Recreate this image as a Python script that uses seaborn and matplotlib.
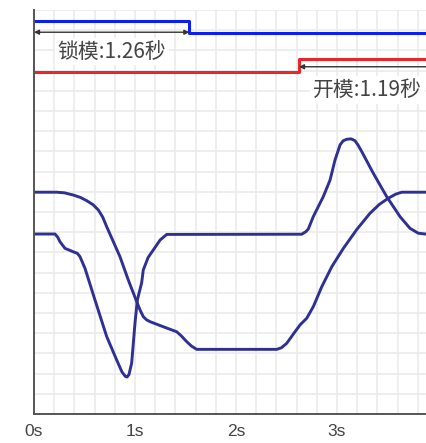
import numpy as np
import pandas as pd
import matplotlib
matplotlib.use("Agg")
import matplotlib.pyplot as plt
import seaborn as sns

# ---- data (x in seconds, y in grid units) ----
lock_t = [0.0, 1.538, 3.95]
lock_level = [19.47, 18.88, 18.88]

open_t = [0.0, 2.624, 3.95]
open_level = [16.92, 17.56, 17.56]

curve_a_t = [0.0, 0.225, 0.30, 0.389, 0.46, 0.522, 0.585, 0.637, 0.680, 0.720, 0.851, 0.934, 1.017,
             1.050, 1.082, 1.115, 1.149, 1.280, 1.413, 1.46, 1.512, 1.56, 1.611, 2.403, 2.45, 2.502,
             2.584, 2.634, 2.700, 2.765, 2.849, 2.948, 3.063, 3.195, 3.327, 3.420, 3.508, 3.580,
             3.641, 3.891]
curve_a_v = [10.98, 10.98, 10.95, 10.84, 10.72, 10.56, 10.36, 10.10, 9.75, 9.27, 7.79, 6.63, 5.56,
             5.15, 4.82, 4.66, 4.57, 4.32, 4.07, 3.86, 3.58, 3.36, 3.20, 3.20, 3.28, 3.50,
             4.07, 4.41, 4.74, 5.31, 6.30, 7.29, 8.20, 9.13, 9.94, 10.38, 10.68, 10.88,
             10.98, 10.98]

curve_b_t = [0.0, 0.208, 0.235, 0.257, 0.307, 0.389, 0.430, 0.455, 0.505, 0.604, 0.720, 0.819,
             0.871, 0.905, 0.921, 0.940, 0.967, 1.0, 1.023, 1.066, 1.082, 1.130, 1.181, 1.248,
             1.314, 2.650, 2.690, 2.716, 2.765, 2.864, 2.931, 2.980, 3.030, 3.060, 3.096, 3.140,
             3.178, 3.210, 3.245, 3.359, 3.492, 3.624, 3.723, 3.805, 3.891]
curve_b_v = [8.91, 8.91, 8.75, 8.53, 8.20, 8.03, 7.95, 7.79, 7.21, 5.64, 3.83, 2.67,
             2.08, 1.86, 1.83, 1.95, 2.52, 4.50, 5.64, 6.50, 7.13, 7.75, 8.12, 8.61,
             8.89, 8.90, 9.02, 9.16, 9.77, 10.76, 11.58, 12.57, 13.32, 13.52, 13.60, 13.62,
             13.53, 13.30, 12.99, 11.92, 10.76, 9.77, 9.19, 8.95, 8.90]

xtick_vals = [0, 1, 2, 3]
xtick_labels = ["0s", "1s", "2s", "3s"]

lock_label = "锁模:1.26秒"
open_label = "开模:1.19秒"

# ---- style ----
sns.set_style("white")
plt.rcParams["font.family"] = ["Noto Sans CJK SC", "DejaVu Sans"]

fig = plt.figure(figsize=(4.27, 4.43), dpi=100)
ax = fig.add_axes([34 / 427, 29 / 443, 1 - 34 / 427, 404 / 443])

navy = "#2e3192"
lw = 2.1

df_a = pd.DataFrame({"t": curve_a_t, "v": curve_a_v})
df_b = pd.DataFrame({"t": curve_b_t, "v": curve_b_v})
df_lock = pd.DataFrame({"t": lock_t, "v": lock_level})
df_open = pd.DataFrame({"t": open_t, "v": open_level})

sns.lineplot(data=df_a, x="t", y="v", ax=ax, color=navy, lw=lw, sort=False, estimator=None)
sns.lineplot(data=df_b, x="t", y="v", ax=ax, color=navy, lw=lw, sort=False, estimator=None)
sns.lineplot(data=df_lock, x="t", y="v", ax=ax, color="#0a1ef5", lw=2.2, sort=False,
             estimator=None, drawstyle="steps-post")
sns.lineplot(data=df_open, x="t", y="v", ax=ax, color="#e8262c", lw=2.2, sort=False,
             estimator=None, drawstyle="steps-post")

ax.set_xlim(0, 3.891)
ax.set_ylim(0, 20)

# grid
ax.set_xticks(np.arange(0, 3.9, 0.2), minor=True)
ax.set_yticks(np.arange(0, 20.5, 1), minor=True)
ax.set_xticks(xtick_vals)
ax.set_xticklabels(xtick_labels, fontsize=12.5, color="#444444", family=["Liberation Sans"])
ax.set_yticks([])
ax.grid(True, which="minor", color="#ebebeb", lw=1.2)
ax.grid(True, which="major", axis="x", color="#ebebeb", lw=1.2)
ax.set_axisbelow(True)
ax.tick_params(axis="x", which="both", length=0, pad=7)
ax.tick_params(axis="y", which="both", length=0)
ax.set_xlabel("")
ax.set_ylabel("")

for s in ["top", "right"]:
    ax.spines[s].set_visible(False)
for s in ["left", "bottom"]:
    ax.spines[s].set_color("#555555")
    ax.spines[s].set_linewidth(1.4)

# arrows
ax.annotate("", xy=(0.0, 18.9), xytext=(lock_t[1], 18.9),
            arrowprops=dict(arrowstyle="<|-|>", color="#333333", lw=1.0,
                            mutation_scale=7, shrinkA=0, shrinkB=0))
ax.annotate("", xy=(open_t[1], 17.19), xytext=(4.1, 17.19), annotation_clip=False,
            arrowprops=dict(arrowstyle="-|>", color="#333333", lw=1.0,
                            mutation_scale=7, shrinkA=0, shrinkB=0))

ax.text(0.77, 17.94, lock_label, ha="center", va="center", fontsize=15, color="#444444",
        bbox=dict(facecolor="white", edgecolor="none", pad=2))
ax.text(3.30, 16.04, open_label, ha="center", va="center", fontsize=15, color="#444444",
        bbox=dict(facecolor="white", edgecolor="none", pad=2))

fig.savefig("out.png", dpi=100)
